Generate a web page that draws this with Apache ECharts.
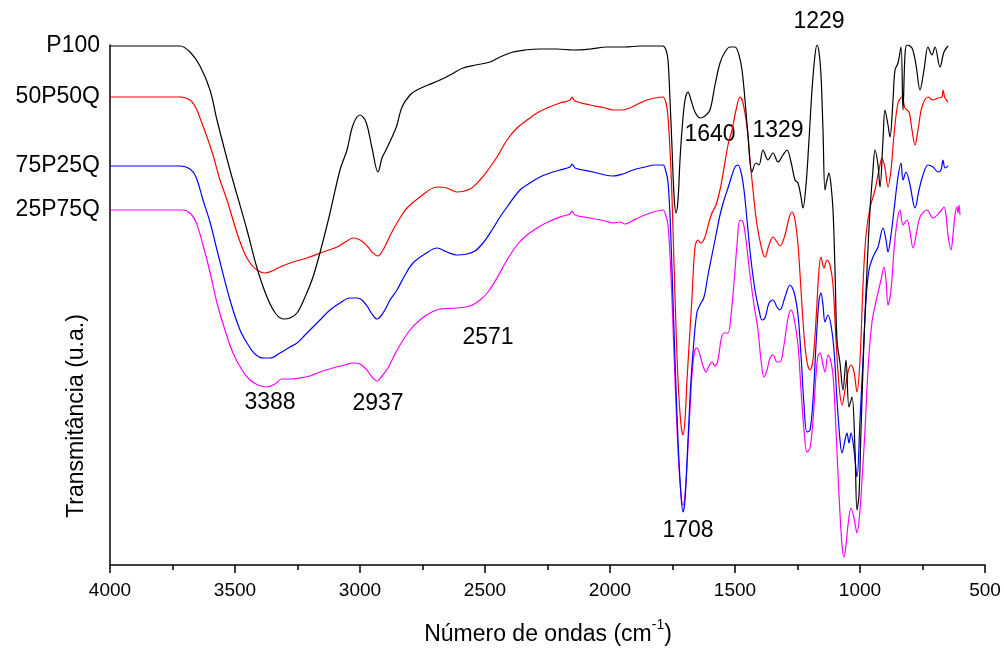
<!DOCTYPE html>
<html>
<head>
<meta charset="utf-8">
<script src="https://cdn.jsdelivr.net/npm/echarts@6/dist/echarts.min.js"></script>
<style>
  html, body { margin: 0; padding: 0; background: #fff; }
  #chart { width: 1004px; height: 648px; }
</style>
</head>
<body>
<div id="chart"></div>
<script>
// FTIR spectra: [wavenumber (cm-1), transmittance (u.a., vertically offset)]
const P100 = [
  [4000,519],[3840,519],[3720,519],[3680,513],[3640,499],[3600,475],[3572,445],[3520,395],
  [3452,335],[3412,297],[3372,268],[3336,251],[3304,246],[3280,247],[3252,252],[3220,268],
  [3188,288],[3152,320],[3120,352],[3080,395],[3052,415],[3028,440],[3000,450],[2976,443],
  [2952,417],[2928,393],[2912,407],[2896,415],[2868,430],[2852,440],[2832,458],[2800,470],
  [2772,475],[2728,480],[2680,485],[2632,491],[2588,497],[2536,500],[2480,503],[2440,508],
  [2388,513],[2340,515],[2280,516],[2212,516],[2148,515],[2080,516],[2012,518],[1940,518],
  [1880,519],[1820,519],[1788,519],[1776,515],[1768,505],[1760,465],[1752,418],[1744,370],
  [1736,352],[1728,365],[1720,405],[1712,435],[1700,465],[1688,473],[1676,465],[1660,453],
  [1640,447],[1620,449],[1600,455],[1580,480],[1560,502],[1540,513],[1520,518],[1500,518],
  [1484,510],[1472,495],[1460,465],[1448,430],[1432,393],[1416,402],[1404,400],[1388,415],
  [1368,405],[1348,412],[1328,403],[1308,410],[1292,415],[1276,403],[1260,385],[1248,382],
  [1236,368],[1228,357],[1216,380],[1204,425],[1192,475],[1180,510],[1172,520],[1164,513],
  [1156,490],[1148,435],[1140,375],[1132,385],[1124,392],[1116,380],[1108,355],[1100,295],
  [1092,225],[1080,202],[1068,175],[1056,205],[1044,158],[1032,168],[1020,115],[1012,55],
  [1004,70],[996,135],[984,225],[972,295],[960,355],[948,395],[940,415],[928,400],[920,378],
  [908,425],[900,455],[888,440],[880,428],[868,465],[860,495],[848,502],[836,518],[828,455],
  [820,510],[812,520],[792,517],[776,500],[760,475],[744,495],[728,518],[712,510],[700,518],
  [680,498],[664,513],[648,519]
];

const P50Q50 = [
  [4000,468],[3840,468],[3720,468],[3680,465],[3656,457],[3640,447],[3612,428],[3588,410],
  [3560,385],[3532,365],[3492,332],[3464,313],[3440,302],[3412,295],[3380,292],[3352,294],
  [3320,298],[3268,303],[3212,307],[3148,313],[3092,318],[3052,324],[3028,327],[3008,326],
  [2988,323],[2968,318],[2952,313],[2928,309],[2908,315],[2888,325],[2868,335],[2840,347],
  [2812,357],[2760,368],[2692,378],[2652,377],[2612,373],[2560,376],[2520,385],[2488,395],
  [2452,408],[2412,425],[2372,437],[2332,445],[2292,452],[2252,457],[2200,462],[2160,465],
  [2152,468],[2140,464],[2080,460],[2020,457],[1988,455],[1952,455],[1920,457],[1880,462],
  [1852,465],[1820,467],[1788,468],[1776,462],[1768,448],[1760,415],[1752,368],[1740,268],
  [1728,185],[1716,140],[1708,130],[1700,145],[1692,185],[1680,235],[1672,268],[1660,318],
  [1648,325],[1636,322],[1620,328],[1604,343],[1592,352],[1576,360],[1560,375],[1544,397],
  [1528,420],[1512,435],[1496,455],[1480,468],[1468,462],[1452,438],[1440,405],[1428,375],
  [1412,340],[1392,315],[1380,308],[1364,320],[1348,328],[1332,323],[1320,319],[1300,330],
  [1284,347],[1272,353],[1260,345],[1248,320],[1236,275],[1224,230],[1212,203],[1200,195],
  [1188,205],[1176,245],[1164,295],[1156,308],[1144,297],[1132,305],[1120,300],[1108,280],
  [1096,225],[1084,180],[1072,160],[1060,175],[1048,193],[1036,200],[1024,193],[1012,173],
  [1000,205],[988,280],[976,330],[960,357],[940,375],[924,395],[912,407],[900,397],[888,378],
  [876,395],[864,430],[848,462],[832,468],[820,457],[804,453],[792,435],[780,420],[768,435],
  [752,458],[728,468],[708,465],[688,467],[672,468],[668,475],[660,467],[648,463]
];

const P75Q25 = [
  [4000,399],[3840,399],[3720,399],[3680,396],[3656,388],[3628,365],[3600,343],[3572,315],
  [3520,265],[3480,235],[3452,222],[3420,211],[3388,207],[3360,207],[3320,212],[3280,218],
  [3252,222],[3220,230],[3188,238],[3152,247],[3120,255],[3080,262],[3040,267],[3012,267],
  [2992,265],[2972,259],[2952,251],[2932,246],[2916,249],[2896,257],[2880,265],[2852,275],
  [2820,290],[2788,302],[2740,311],[2692,317],[2652,313],[2612,310],[2572,311],[2540,314],
  [2508,322],[2472,335],[2440,348],[2412,358],[2360,375],[2320,382],[2280,388],[2240,392],
  [2200,395],[2160,398],[2152,401],[2140,397],[2068,393],[2020,390],[1988,389],[1948,391],
  [1908,395],[1860,398],[1820,400],[1788,400],[1776,393],[1768,383],[1760,350],[1752,295],
  [1740,205],[1728,125],[1716,70],[1708,53],[1700,65],[1688,125],[1676,185],[1664,225],
  [1652,253],[1640,260],[1624,268],[1608,290],[1592,310],[1576,330],[1560,350],[1544,365],
  [1528,377],[1512,390],[1500,398],[1488,400],[1476,393],[1464,375],[1452,345],[1436,305],
  [1420,275],[1404,255],[1392,245],[1380,247],[1364,262],[1348,265],[1332,258],[1320,255],
  [1300,268],[1280,280],[1264,273],[1248,250],[1236,210],[1224,160],[1212,133],[1200,135],
  [1188,165],[1176,220],[1164,265],[1156,272],[1148,260],[1140,243],[1128,250],[1116,240],
  [1104,215],[1092,165],[1080,125],[1072,112],[1060,125],[1052,132],[1044,122],[1036,132],
  [1024,115],[1012,88],[1000,145],[988,205],[976,265],[964,295],[948,308],[928,318],
  [908,337],[896,325],[888,313],[876,330],[864,355],[848,388],[836,402],[828,385],[816,393],
  [800,380],[780,357],[764,375],[748,390],[728,400],[708,398],[688,393],[676,395],[668,405],
  [660,397],[648,399]
];

const P25Q75 = [
  [4000,355],[3840,355],[3708,355],[3680,352],[3656,343],[3628,320],[3600,293],[3572,262],
  [3540,235],[3508,212],[3472,195],[3440,185],[3408,180],[3372,178],[3340,181],[3312,186],
  [3280,186],[3240,187],[3200,189],[3160,193],[3108,197],[3060,200],[3028,202],[3000,201],
  [2976,196],[2952,188],[2932,184],[2912,189],[2888,197],[2868,207],[2840,220],[2800,235],
  [2760,245],[2720,252],[2680,256],[2612,257],[2560,259],[2520,265],[2488,273],[2452,287],
  [2412,305],[2372,320],[2332,330],[2292,337],[2240,344],[2188,349],[2160,351],[2152,354],
  [2140,350],[2080,347],[2020,344],[1988,342],[1960,343],[1940,341],[1912,344],[1880,348],
  [1840,352],[1788,355],[1776,349],[1768,340],[1760,310],[1752,265],[1740,185],[1728,115],
  [1716,70],[1708,60],[1700,70],[1688,118],[1676,175],[1668,202],[1660,215],[1652,217],
  [1640,210],[1628,199],[1616,193],[1604,199],[1592,203],[1580,199],[1568,205],[1556,225],
  [1544,232],[1528,232],[1516,250],[1504,282],[1492,320],[1480,345],[1468,343],[1456,325],
  [1440,290],[1424,260],[1408,235],[1396,205],[1384,188],[1372,195],[1360,207],[1348,210],
  [1332,203],[1320,203],[1304,220],[1288,247],[1276,255],[1264,247],[1248,220],[1236,175],
  [1224,135],[1212,113],[1200,117],[1188,145],[1176,190],[1168,209],[1160,212],[1148,200],
  [1140,193],[1128,210],[1120,207],[1108,190],[1096,135],[1084,70],[1072,20],[1064,8],
  [1056,20],[1048,40],[1036,57],[1024,47],[1012,32],[1000,55],[992,85],[980,135],[968,195],
  [952,243],[932,268],[916,285],[904,298],[896,285],[888,260],[876,275],[864,315],[852,343],
  [840,355],[828,340],[812,345],[800,333],[788,317],[772,335],[760,348],[732,355],[708,347],
  [680,353],[664,358],[656,350],[648,330],[636,315],[628,330],[620,350],[612,358],[608,352],
  [604,360],[600,350]
];

const seriesNames  = ['P100', '50P50Q', '75P25Q', '25P75Q'];
const seriesData   = [P100, P50Q50, P75Q25, P25Q75];
const seriesColors = ['#000000', '#ff0000', '#0000ff', '#ff00ff'];

// band assignments written over the spectra
const bandLabels = ['1229', '1640', '1329', '3388', '2937', '2571', '1708'];
const bandPos    = [[819, 22], [710, 135], [778, 131], [270, 403], [378, 404], [488, 338], [688, 531]];

const chart = echarts.init(document.getElementById('chart'), null, { renderer: 'canvas' });
const FONT = 'Liberation Sans, Arial, sans-serif';

const option = {
  animation: false,
  backgroundColor: '#ffffff',
  grid: { left: 110, right: 19, top: 45, bottom: 83, containLabel: false },
  xAxis: {
    type: 'value', inverse: true, min: 500, max: 4000, interval: 500,
    axisLine: { show: true, onZero: false, lineStyle: { color: '#000', width: 1.5 } },
    axisTick: { show: true, inside: false, length: 8, lineStyle: { color: '#000', width: 1.5 } },
    minorTick: { show: true, splitNumber: 2, length: 5, lineStyle: { color: '#000', width: 1.5 } },
    axisLabel: { color: '#000', fontSize: 19, fontFamily: FONT, margin: 16, formatter: v => String(v) },
    splitLine: { show: false }
  },
  yAxis: {
    type: 'value', min: 0, max: 520,
    axisLine: { show: true, onZero: false, lineStyle: { color: '#000', width: 1.5 } },
    axisTick: { show: false },
    axisLabel: { show: false },
    splitLine: { show: false }
  },
  series: seriesData.map((d, i) => ({
    name: seriesNames[i],
    type: 'line',
    data: d,
    showSymbol: false,
    smooth: 0.35,
    lineStyle: { color: seriesColors[i], width: 1.2 },
    z: 10 - i
  })),
  graphic: []
};

chart.setOption(option);

// series names at the left end of each trace
const graphics = [];
seriesData.forEach((d, i) => {
  const p = chart.convertToPixel({ gridIndex: 0 }, d[0]);
  graphics.push({
    type: 'text', x: p[0] - 10, y: p[1],
    style: { text: seriesNames[i], fill: '#000', font: '23px ' + FONT, align: 'right', verticalAlign: 'middle' }
  });
});

bandLabels.forEach((t, i) => {
  graphics.push({
    type: 'text', x: bandPos[i][0], y: bandPos[i][1],
    style: { text: t, fill: '#000', font: '23px ' + FONT, align: 'center', verticalAlign: 'middle' }
  });
});

// axis titles
graphics.push({
  type: 'text', x: 548, y: 632,
  style: {
    text: '{a|Número de ondas (cm}{s|-1}{a|)}',
    align: 'center', verticalAlign: 'middle',
    rich: {
      a: { fontSize: 23, fontFamily: FONT, fill: '#000', lineHeight: 28, verticalAlign: 'bottom' },
      s: { fontSize: 14, fontFamily: FONT, fill: '#000', lineHeight: 28, verticalAlign: 'top' }
    }
  }
});
graphics.push({
  type: 'text', x: 77, y: 416, rotation: Math.PI / 2,
  style: { text: 'Transmitância (u.a.)', fill: '#000', font: '23px ' + FONT, align: 'center', verticalAlign: 'middle' }
});

chart.setOption({ graphic: graphics });
</script>
</body>
</html>
